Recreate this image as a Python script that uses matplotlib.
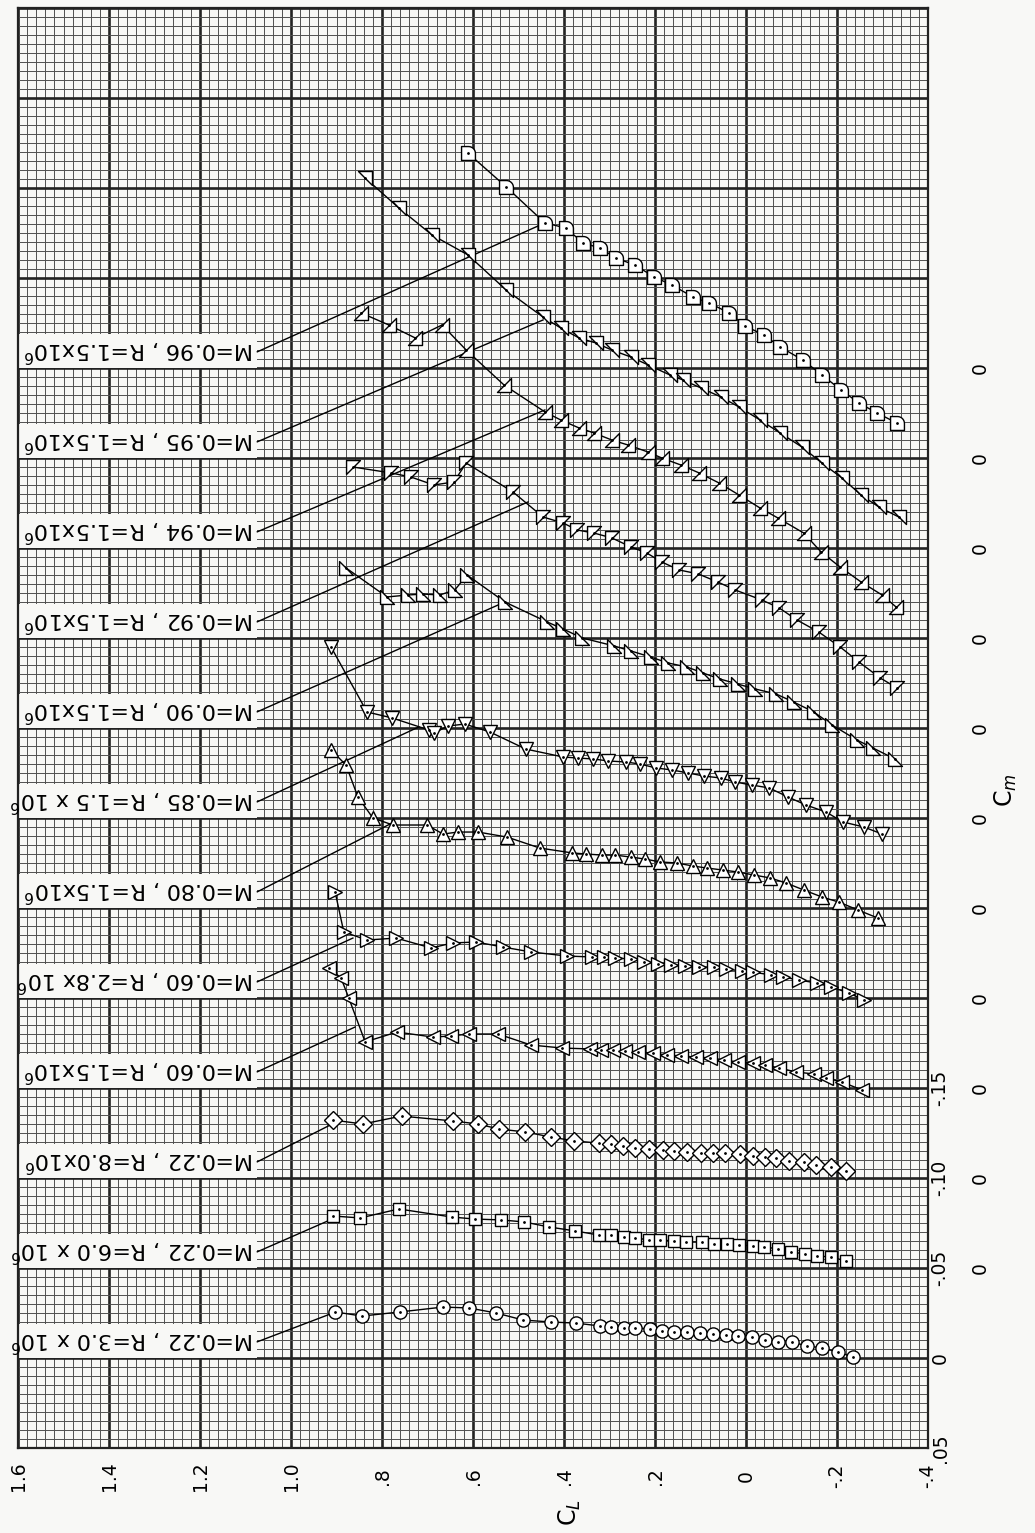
import numpy as np
import matplotlib
matplotlib.use("Agg")
import matplotlib.pyplot as plt
from matplotlib.patches import Rectangle
from matplotlib.path import Path
from matplotlib.transforms import blended_transform_factory

# ------------------------------------------------------------
#  Cm vs CL, each curve shifted by -0.05 in Cm
# ------------------------------------------------------------

# M=0.22, R=3.0x10^6
cl_m22_r30 = [0.903, 0.844, 0.760, 0.666, 0.609, 0.549, 0.490, 0.429, 0.374, 0.321,
              0.297, 0.268, 0.244, 0.211, 0.185, 0.158, 0.130, 0.101, 0.073, 0.044,
              0.018, -0.013, -0.042, -0.070, -0.101, -0.134, -0.167, -0.202, -0.235]
cm_m22_r30 = [-0.0256, -0.0233, -0.0256, -0.0283, -0.0278, -0.0250, -0.0211, -0.0200, -0.0194, -0.0178,
              -0.0172, -0.0167, -0.0167, -0.0161, -0.0150, -0.0144, -0.0144, -0.0139, -0.0133, -0.0128,
              -0.0122, -0.0117, -0.0100, -0.0089, -0.0089, -0.0067, -0.0056, -0.0033, -0.0006]

# M=0.22, R=6.0x10^6
cl_m22_r60 = [0.908, 0.848, 0.763, 0.646, 0.596, 0.538, 0.488, 0.433, 0.376, 0.323,
              0.297, 0.268, 0.244, 0.213, 0.189, 0.158, 0.132, 0.097, 0.070, 0.042,
              0.015, -0.015, -0.040, -0.070, -0.099, -0.130, -0.156, -0.187, -0.220]
cm_m22_r60 = [-0.0289, -0.0278, -0.0328, -0.0283, -0.0272, -0.0267, -0.0256, -0.0228, -0.0206, -0.0183,
              -0.0183, -0.0172, -0.0167, -0.0156, -0.0156, -0.0150, -0.0144, -0.0144, -0.0133, -0.0133,
              -0.0128, -0.0122, -0.0117, -0.0106, -0.0089, -0.0078, -0.0067, -0.0061, -0.0039]

# M=0.22, R=8.0x10^6
cl_m22_r80 = [0.908, 0.842, 0.757, 0.644, 0.589, 0.543, 0.486, 0.429, 0.378, 0.323,
              0.297, 0.270, 0.244, 0.213, 0.182, 0.158, 0.130, 0.099, 0.073, 0.046,
              0.013, -0.015, -0.042, -0.066, -0.095, -0.128, -0.154, -0.187, -0.220]
cm_m22_r80 = [-0.0322, -0.0300, -0.0344, -0.0317, -0.0300, -0.0272, -0.0256, -0.0228, -0.0206, -0.0194,
              -0.0189, -0.0178, -0.0167, -0.0161, -0.0156, -0.0150, -0.0144, -0.0139, -0.0139, -0.0139,
              -0.0133, -0.0122, -0.0117, -0.0111, -0.0094, -0.0089, -0.0072, -0.0061, -0.0039]

# M=0.60, R=1.5x10^6
cl_m60_r15 = [0.916, 0.890, 0.873, 0.837, 0.767, 0.688, 0.648, 0.609, 0.545, 0.473,
              0.404, 0.343, 0.319, 0.292, 0.266, 0.237, 0.204, 0.174, 0.143, 0.110,
              0.079, 0.048, 0.018, -0.015, -0.042, -0.073, -0.110, -0.149, -0.176, -0.211,
              -0.255]
cm_m60_r15 = [-0.0667, -0.0611, -0.0500, -0.0256, -0.0311, -0.0283, -0.0289, -0.0300, -0.0300, -0.0239,
              -0.0222, -0.0217, -0.0211, -0.0211, -0.0206, -0.0200, -0.0194, -0.0183, -0.0178, -0.0172,
              -0.0167, -0.0156, -0.0144, -0.0139, -0.0128, -0.0111, -0.0089, -0.0078, -0.0056, -0.0033,
              0.0011]

# M=0.60, R=2.8x10^6
cl_m60_r28 = [0.903, 0.884, 0.833, 0.769, 0.692, 0.644, 0.593, 0.534, 0.473, 0.393,
              0.338, 0.312, 0.288, 0.253, 0.224, 0.193, 0.165, 0.134, 0.103, 0.070,
              0.044, 0.009, -0.015, -0.055, -0.081, -0.116, -0.156, -0.187, -0.226, -0.259]
cm_m60_r28 = [-0.0589, -0.0367, -0.0322, -0.0333, -0.0278, -0.0306, -0.0311, -0.0283, -0.0256, -0.0233,
              -0.0228, -0.0228, -0.0222, -0.0217, -0.0200, -0.0189, -0.0183, -0.0178, -0.0172, -0.0172,
              -0.0161, -0.0150, -0.0144, -0.0128, -0.0117, -0.0100, -0.0083, -0.0061, -0.0028, 0.0011]

# M=0.80
cl_m80 = [0.912, 0.879, 0.853, 0.820, 0.776, 0.701, 0.666, 0.633, 0.589, 0.525,
          0.453, 0.382, 0.352, 0.316, 0.288, 0.253, 0.222, 0.189, 0.152, 0.116,
          0.086, 0.051, 0.018, -0.018, -0.053, -0.088, -0.127, -0.167, -0.204, -0.246,
          -0.290]
cm_m80 = [-0.0878, -0.0794, -0.0617, -0.0500, -0.0461, -0.0461, -0.0411, -0.0422, -0.0422, -0.0394,
          -0.0333, -0.0306, -0.0300, -0.0294, -0.0294, -0.0283, -0.0272, -0.0256, -0.0250, -0.0233,
          -0.0222, -0.0211, -0.0200, -0.0183, -0.0167, -0.0139, -0.0100, -0.0061, -0.0033, 0.0011,
          0.0056]

# M=0.85
cl_m85 = [0.912, 0.833, 0.778, 0.697, 0.686, 0.655, 0.618, 0.563, 0.484, 0.402,
          0.369, 0.336, 0.303, 0.264, 0.233, 0.198, 0.163, 0.127, 0.092, 0.055,
          0.024, -0.013, -0.051, -0.092, -0.132, -0.176, -0.213, -0.259, -0.299]
cm_m85 = [-0.0950, -0.0589, -0.0556, -0.0489, -0.0472, -0.0511, -0.0522, -0.0478, -0.0383, -0.0339,
          -0.0333, -0.0328, -0.0317, -0.0311, -0.0300, -0.0278, -0.0267, -0.0250, -0.0233, -0.0222,
          -0.0200, -0.0183, -0.0167, -0.0117, -0.0072, -0.0033, 0.0022, 0.0050, 0.0089]

# M=0.90
cl_m90 = [0.879, 0.789, 0.743, 0.710, 0.673, 0.640, 0.613, 0.530, 0.437, 0.402,
          0.360, 0.290, 0.253, 0.209, 0.171, 0.130, 0.095, 0.057, 0.018, -0.020,
          -0.066, -0.105, -0.149, -0.189, -0.244, -0.279, -0.327]
cm_m90 = [-0.0889, -0.0728, -0.0739, -0.0744, -0.0739, -0.0767, -0.0850, -0.0700, -0.0589, -0.0550,
          -0.0500, -0.0456, -0.0428, -0.0394, -0.0361, -0.0339, -0.0306, -0.0272, -0.0244, -0.0217,
          -0.0189, -0.0144, -0.0089, -0.0017, 0.0067, 0.0111, 0.0172]

# M=0.92
cl_m92 = [0.864, 0.780, 0.736, 0.686, 0.642, 0.615, 0.512, 0.446, 0.402, 0.371,
          0.334, 0.295, 0.253, 0.218, 0.185, 0.147, 0.105, 0.062, 0.024, -0.035,
          -0.073, -0.112, -0.160, -0.207, -0.248, -0.295, -0.332]
cm_m92 = [-0.0950, -0.0917, -0.0894, -0.0850, -0.0867, -0.0972, -0.0811, -0.0672, -0.0639, -0.0600,
          -0.0583, -0.0556, -0.0506, -0.0472, -0.0422, -0.0378, -0.0356, -0.0311, -0.0267, -0.0211,
          -0.0167, -0.0100, -0.0033, 0.0050, 0.0133, 0.0222, 0.0278]

# M=0.94
cl_m94 = [0.846, 0.785, 0.727, 0.668, 0.615, 0.532, 0.442, 0.407, 0.367, 0.334,
          0.295, 0.259, 0.215, 0.185, 0.143, 0.103, 0.059, 0.015, -0.031, -0.070,
          -0.127, -0.165, -0.207, -0.253, -0.299, -0.330]
cm_m94 = [-0.1306, -0.1239, -0.1167, -0.1239, -0.1100, -0.0906, -0.0756, -0.0711, -0.0667, -0.0639,
          -0.0600, -0.0572, -0.0533, -0.0500, -0.0461, -0.0417, -0.0361, -0.0294, -0.0222, -0.0167,
          -0.0083, 0.0022, 0.0106, 0.0189, 0.0261, 0.0328]

# M=0.95
cl_m95 = [0.837, 0.763, 0.690, 0.611, 0.527, 0.446, 0.407, 0.367, 0.330, 0.295,
          0.253, 0.215, 0.167, 0.138, 0.099, 0.055, 0.015, -0.031, -0.075, -0.123,
          -0.167, -0.211, -0.253, -0.292, -0.336]
cm_m95 = [-0.1556, -0.1389, -0.1239, -0.1128, -0.0933, -0.0783, -0.0722, -0.0667, -0.0639, -0.0600,
          -0.0561, -0.0517, -0.0461, -0.0433, -0.0389, -0.0339, -0.0283, -0.0211, -0.0139, -0.0061,
          0.0028, 0.0111, 0.0206, 0.0272, 0.0328]

# M=0.96
cl_m96 = [0.611, 0.527, 0.442, 0.396, 0.358, 0.321, 0.286, 0.244, 0.202, 0.163,
          0.116, 0.081, 0.037, 0.002, -0.040, -0.075, -0.125, -0.167, -0.209, -0.248,
          -0.288, -0.332]
cm_m96 = [-0.1194, -0.1006, -0.0806, -0.0778, -0.0694, -0.0667, -0.0611, -0.0572, -0.0506, -0.0461,
          -0.0394, -0.0361, -0.0306, -0.0233, -0.0183, -0.0117, -0.0044, 0.0039, 0.0122, 0.0194,
          0.0250, 0.0306]

labels = ["M=0.22 , R=3.0 x 10$^6$", "M=0.22 , R=6.0 x 10$^6$", "M=0.22 , R=8.0x10$^6$",
          "M=0.60 , R=1.5x10$^6$", "M=0.60 , R=2.8x 10$^6$", "M=0.80 , R=1.5x10$^6$",
          "M=0.85 , R=1.5 x 10$^6$", "M=0.90 , R=1.5x10$^6$", "M=0.92 , R=1.5x10$^6$",
          "M=0.94 , R=1.5x10$^6$", "M=0.95 , R=1.5x10$^6$", "M=0.96 , R=1.5x10$^6$"]

# point on each curve where the label's leader line ends
leader_cl = [0.914, 0.914, 0.914, 0.859, 0.864, 0.778, 0.719, 0.530, 0.479, 0.442, 0.446, 0.442]
leader_cm = [-0.0244, -0.0267, -0.0294, -0.0339, -0.0333, -0.0472, -0.0506, -0.0700, -0.0756, -0.0767, -0.0767, -0.0806]

cl_ticks = [1.6, 1.4, 1.2, 1.0, 0.8, 0.6, 0.4, 0.2, 0.0, -0.2, -0.4]
cl_ticklabels = ["1.6", "1.4", "1.2", "1.0", ".8", ".6", ".4", ".2", "0", "-.2", "-.4"]
cm_ticks = [0.05, 0.0, -0.05, -0.10, -0.15]
cm_ticklabels = [".05", "0", "-.05", "-.10", "-.15"]
offset = 0.05


# --- marker shapes (closed paths) ---
def closed(pts):
    return Path(list(pts) + [(0, 0)], closed=True)


tri_bl = closed([(-1, -1), (1, -1), (-1, 1)])
tri_tl = closed([(-1, 1), (1, 1), (-1, -1)])
tri_br = closed([(-1, -1), (1, -1), (1, 1)])
tri_tr = closed([(-1, 1), (1, 1), (1, -1)])
ang = np.linspace(np.pi / 2, 0, 10)
round_sq = closed([(-1, -1), (-1, 1), (0, 1)] + [(np.cos(a), np.sin(a)) for a in ang[1:]] + [(1, -1)])

curves = [
    (cl_m22_r30, cm_m22_r30, "o", 9.5),
    (cl_m22_r60, cm_m22_r60, "s", 9),
    (cl_m22_r80, cm_m22_r80, "D", 9.5),
    (cl_m60_r15, cm_m60_r15, "<", 10),
    (cl_m60_r28, cm_m60_r28, ">", 10),
    (cl_m80, cm_m80, "^", 10),
    (cl_m85, cm_m85, "v", 10),
    (cl_m90, cm_m90, tri_bl, 10),
    (cl_m92, cm_m92, tri_tl, 10),
    (cl_m94, cm_m94, tri_br, 10),
    (cl_m95, cm_m95, tri_tr, 10),
    (cl_m96, cm_m96, round_sq, 10),
]

bg = "#f8f8f6"
fig = plt.figure(figsize=(10.35, 15.33), dpi=100, facecolor=bg)
ax = fig.add_axes([18 / 1035, 85 / 1533, 910 / 1035, 1440 / 1533])
ax.set_facecolor(bg)
ax.set_xlim(1.6, -0.4)
ax.set_ylim(0.05, -0.75)

# grid like the graph paper
ax.set_xticks(cl_ticks)
ax.set_xticks(np.arange(-0.4, 1.6001, 0.02), minor=True)
ax.set_yticks(np.arange(-0.75, 0.0501, 0.05))
ax.set_yticks(np.arange(-0.75, 0.0501, 0.005), minor=True)
ax.grid(which="minor", color="#505050", linewidth=0.7)
ax.grid(which="major", color="#222222", linewidth=1.9)
ax.set_axisbelow(True)
ax.tick_params(which="both", length=0)
ax.set_xticklabels([])
ax.set_yticklabels([])
for s in ax.spines.values():
    s.set_linewidth(1.6)
    s.set_color("#222222")

for k, (cl, cm, mk, ms) in enumerate(curves):
    y = np.array(cm) - offset * k
    ax.plot(cl, y, color="black", linewidth=1.0, zorder=3)
    ax.plot(cl, y, linestyle="none", marker=mk, markersize=ms,
            markerfacecolor="white", markeredgecolor="black", markeredgewidth=1.0, zorder=4)
    ax.plot(cl, y, linestyle="none", marker=".", markersize=2, color="black", zorder=5)

    # label box, upside-down text, leader line
    y0 = -offset * k
    ax.add_patch(Rectangle((1.074, y0 - 0.019), 0.526, 0.019, facecolor=bg,
                           edgecolor="none", zorder=2))
    ax.text(1.082, y0 - 0.0095, labels[k], rotation=180, ha="right", va="center",
            fontsize=16, zorder=6)
    ax.plot([1.074, leader_cl[k]], [y0 - 0.009, leader_cm[k] - offset * k],
            color="black", linewidth=1.0, zorder=3)

# CL labels under the grid
trx = blended_transform_factory(ax.transData, fig.transFigure)
for v, t in zip(cl_ticks, cl_ticklabels):
    fig.text(v, 1 - 1476 / 1533, t, transform=trx, rotation=90, ha="center", va="center",
             fontsize=13.5)

# Cm labels on the right
tr = blended_transform_factory(fig.transFigure, ax.transData)
for v, t in zip(cm_ticks, cm_ticklabels):
    fig.text(940 / 1035, v, t, transform=tr, rotation=90, ha="center", va="center", fontsize=13.5)
for k in range(1, 12):
    fig.text(980 / 1035, -offset * k, "0", transform=tr, rotation=90, ha="center",
             va="center", fontsize=13.5)

fig.text(1006 / 1035, 1 - 790 / 1533, "C$_m$", rotation=90, ha="center", va="center", fontsize=17)
fig.text(570 / 1035, 1 - 1513 / 1533, "C$_L$", rotation=90, ha="center", va="center", fontsize=17)

fig.savefig("out.png", dpi=100, facecolor=bg)
